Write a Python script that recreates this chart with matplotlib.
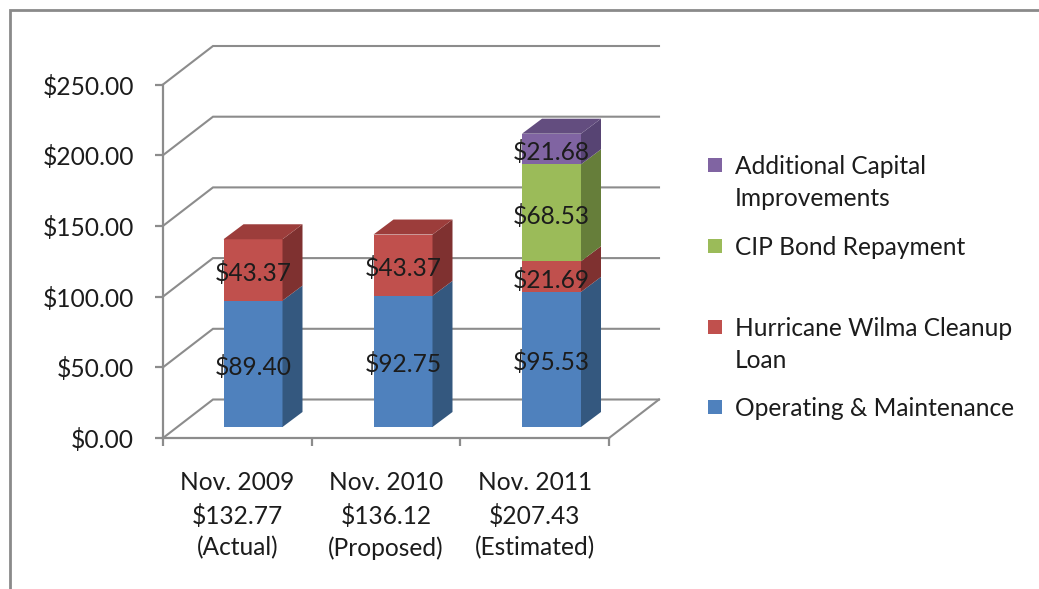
import matplotlib
matplotlib.use("Agg")
import matplotlib.pyplot as plt
from matplotlib.patches import Rectangle
from matplotlib.lines import Line2D

W, H = 1039, 589
FONT = "Lato"
TEXT = "#1c1c1c"
GRID = "#8c8c8c"
FS = 17.65

categories = ["Nov. 2009\n$132.77\n(Actual)", "Nov. 2010\n$136.12\n(Proposed)", "Nov. 2011\n$207.43\n(Estimated)"]
operating = [89.40, 92.75, 95.53]
hurricane = [43.37, 43.37, 21.69]
cip = [0, 0, 68.53]
capital = [0, 0, 21.68]
series_names = ["Operating & Maintenance", "Hurricane Wilma Cleanup\nLoan", "CIP Bond Repayment", "Additional Capital\nImprovements"]
yticks = [0, 50, 100, 150, 200, 250]

series = [operating, hurricane, cip, capital]
front = ["#4F81BD", "#C0504D", "#9BBB59", "#8064A2"]
side = ["#34587F", "#7F3130", "#667E3A", "#574473"]
topc = ["#3F6797", "#9C3D3B", "#7D9747", "#634D7F"]
legend_y = [407, 327, 246, 165]

plt.rcParams["font.family"] = [FONT, "DejaVu Sans"]
fig = plt.figure(figsize=(W / 100, H / 100), dpi=100, facecolor="white")

L, R, T, B = 163, 609, 84.5, 438
ax = fig.add_axes([L / W, 1 - B / H, (R - L) / W, (B - T) / H])
ax.set_xlim(0, 3)
ax.set_ylim(0, 250)
ax.patch.set_visible(False)

px_x = 3 / (R - L)
px_y = 250 / (B - T)
wall_dx, wall_dy = 50 * px_x, 38.5 * px_y      # depth of the floor
bar_dx, bar_dy = 20 * px_x, 15 * px_y          # depth of a bar
base = 11 * px_y                               # bar base above front floor edge
width = 59 * px_x
centers = [253 - L, 403 - L, 551.5 - L]
centers = [c * px_x for c in centers]

# gridlines on side wall + back wall, and the floor
for v in yticks:
    ax.plot([0, wall_dx, 3 + wall_dx], [v, v + wall_dy, v + wall_dy],
            color=GRID, lw=1.5, clip_on=False, zorder=1, solid_joinstyle="miter")
ax.plot([3, 3 + wall_dx], [0, wall_dy], color=GRID, lw=1.5, clip_on=False, zorder=1)

# stacked 3-D bars
for i, c in enumerate(centers):
    bottom = base
    stack = [(k, s[i]) for k, s in enumerate(series) if s[i] > 0]
    for n, (k, v) in enumerate(stack):
        ax.bar(c, v, width, bottom=bottom, color=front[k], linewidth=0, zorder=3, clip_on=False)
        xr = c + width / 2
        ax.fill([xr, xr + bar_dx, xr + bar_dx, xr],
                [bottom, bottom + bar_dy, bottom + v + bar_dy, bottom + v],
                color=side[k], lw=0, zorder=3, clip_on=False)
        if n == len(stack) - 1:
            xl = c - width / 2
            ax.fill([xl, xr, xr + bar_dx, xl + bar_dx],
                    [bottom + v, bottom + v, bottom + v + bar_dy, bottom + v + bar_dy],
                    color=topc[k], lw=0, zorder=3, clip_on=False)
        ax.text(c, bottom + v / 2 - 3 * px_y, f"${v:.2f}", ha="center", va="center",
                fontsize=FS, color=TEXT, zorder=5)
        bottom += v

# axes
for s in ("top", "right"):
    ax.spines[s].set_visible(False)
for s in ("left", "bottom"):
    ax.spines[s].set_color(GRID)
    ax.spines[s].set_linewidth(1.6)
    ax.spines[s].set_zorder(2)
ax.set_yticks(yticks)
ax.set_yticklabels([f"${v:.2f}" for v in yticks], fontsize=FS, color=TEXT)
ax.set_xticks([0, 1, 2, 3])
ax.set_xticklabels([])
ax.set_xticks([0.5, 1.5, 2.5], minor=True)
ax.set_xticklabels(categories, minor=True, fontsize=FS, color=TEXT, linespacing=1.46)
ax.tick_params(axis="x", which="minor", length=0, pad=24)
ax.tick_params(axis="both", which="major", length=6, width=1.6, color=GRID)
ax.tick_params(axis="y", which="major", pad=15)

# outer chart frame: only left and top edges are visible
px = fig.transFigure
fig.add_artist(Line2D([9.5 / W, 9.5 / W, 1], [0, 1 - 9.5 / H, 1 - 9.5 / H],
                      color="#8a8a8a", lw=2, transform=px, solid_joinstyle="miter"))

# legend
for k, y in enumerate(legend_y):
    fig.add_artist(Rectangle((708 / W, 1 - (y + 7) / H), 14 / W, 14 / H, color=front[k], lw=0, transform=px))
    lines = series_names[k].count("\n")
    yc = y + lines * 16 + 1.5
    fig.text(735 / W, 1 - yc / H, series_names[k], ha="left", va="center", fontsize=FS,
             color=TEXT, linespacing=1.46)

fig.savefig("out.png", dpi=100, facecolor="white")
